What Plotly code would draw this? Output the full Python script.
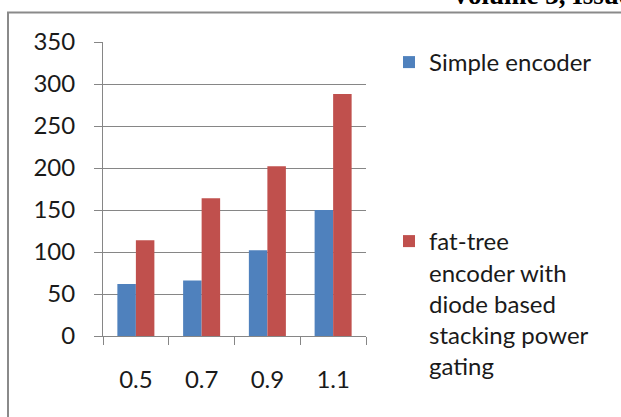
import plotly.graph_objects as go

# Supply voltage (V) on the x axis
voltages = ["0.5", "0.7", "0.9", "1.1"]

# Series values
simple_encoder = [62, 66, 102, 150]
fat_tree_encoder = [114, 164, 202, 288]

series_names = [
    "Simple encoder",
    "fat-tree<br>encoder with<br>diode based<br>stacking power<br>gating",
]

BLUE = "#4F81BD"
RED = "#C0504D"
GRID = "#868686"
FONT = "Lato"
TEXT = "#1a1a1a"

W, H = 621, 417
L, R, T, B = 103, 255, 41.5, 81
plot_w = W - L - R
plot_h = H - T - B

fig = go.Figure()
fig.add_trace(go.Bar(
    x=voltages, y=simple_encoder, name=series_names[0],
    marker=dict(color=BLUE, line=dict(width=0)),
    legend="legend", showlegend=True,
))
fig.add_trace(go.Bar(
    x=voltages, y=fat_tree_encoder, name=series_names[1],
    marker=dict(color=RED, line=dict(width=0)),
    legend="legend2", showlegend=True,
))


def px_to_paper_x(px):
    return (px - L) / plot_w


def px_to_paper_y(py):
    return (H - B - py) / plot_h


# Chart-area frame (runs past the right and bottom edges of the page)
fig.add_shape(
    type="rect", xref="paper", yref="paper",
    x0=px_to_paper_x(8), x1=px_to_paper_x(640),
    y0=px_to_paper_y(440), y1=px_to_paper_y(12),
    line=dict(color="#8a8a8a", width=2), fillcolor="rgba(0,0,0,0)",
    layer="below",
)

# Running page header, partly off the top of the page
fig.add_annotation(
    text="<b>Volume 3, Issue</b>", xref="paper", yref="paper",
    x=px_to_paper_x(449), y=px_to_paper_y(11),
    xanchor="left", yanchor="bottom", showarrow=False,
    font=dict(family="Liberation Serif", size=27, color="#000000"),
)

legend_style = dict(
    xref="container", yref="container",
    xanchor="left", yanchor="top",
    valign="top", itemwidth=30,
    font=dict(family=FONT, size=24, color=TEXT),
    bgcolor="rgba(0,0,0,0)",
)

fig.update_layout(
    width=W, height=H,
    margin=dict(l=L, r=R, t=T, b=B, pad=0),
    paper_bgcolor="white", plot_bgcolor="white",
    barmode="group", bargap=0.437, bargroupgap=0,
    font=dict(family=FONT, size=24, color=TEXT),
    showlegend=True,
    legend=dict(x=389 / W, y=1 - 40 / H, **legend_style),
    legend2=dict(x=389 / W, y=1 - 219 / H, **legend_style),
    xaxis=dict(
        type="category", range=[-0.5, 3.5],
        showline=True, linecolor=GRID, linewidth=1,
        ticks="outside", tickson="boundaries", ticklen=8, tickcolor=GRID,
        showgrid=False, ticklabelstandoff=22,
        tickfont=dict(family=FONT, size=24, color=TEXT),
    ),
    yaxis=dict(
        range=[0, 350], dtick=50, tick0=0,
        showline=True, linecolor=GRID, linewidth=1,
        ticks="outside", ticklen=8, tickcolor=GRID,
        showgrid=True, gridcolor=GRID, gridwidth=1,
        zeroline=False, ticklabelstandoff=14,
        tickfont=dict(family=FONT, size=24, color=TEXT),
    ),
)

fig.write_html("out.html")
